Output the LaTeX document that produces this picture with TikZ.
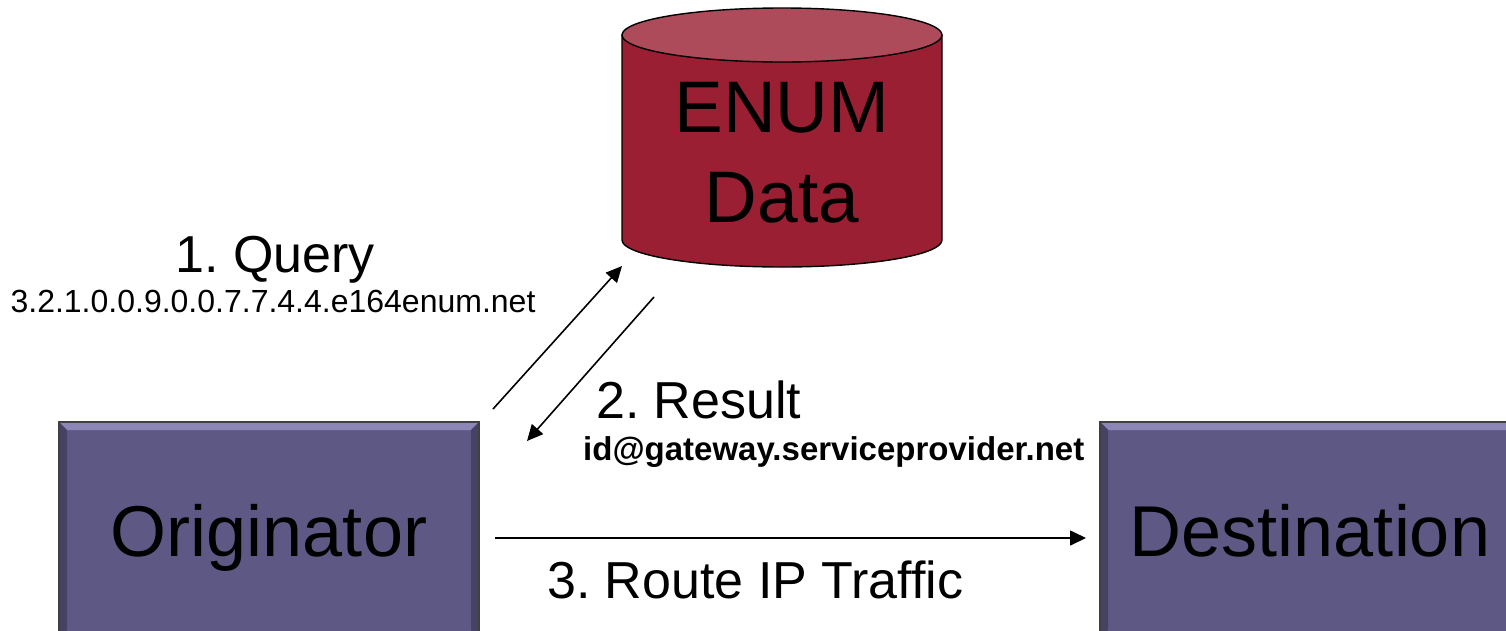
\documentclass[tikz,border=0pt]{standalone}
\usepackage{fontspec}
\setmainfont{Liberation Sans}
\frenchspacing
\usetikzlibrary{arrows.meta,positioning}
\definecolor{boxfill}{RGB}{94,89,132}
\definecolor{boxlight}{RGB}{140,135,182}
\definecolor{boxdark}{RGB}{70,66,100}
\definecolor{dbbody}{RGB}{154,31,51}
\definecolor{dbtop}{RGB}{173,75,91}
\tikzset{
  bevelbox/.style={draw=black!75, line width=1.4pt, fill=boxfill,
    minimum width=420pt, minimum height=216pt, inner sep=0pt,
    text height=52pt, text depth=0pt, font=\fontsize{72}{86}\selectfont,
    path picture={
      \fill[boxlight] (path picture bounding box.north west) -- (path picture bounding box.north east)
        -- ([xshift=-8pt,yshift=-8pt]path picture bounding box.north east)
        -- ([xshift=8pt,yshift=-8pt]path picture bounding box.north west) -- cycle;
      \fill[boxdark] (path picture bounding box.north west) -- ([xshift=8pt,yshift=-8pt]path picture bounding box.north west)
        -- ([xshift=8pt,yshift=8pt]path picture bounding box.south west) -- (path picture bounding box.south west) -- cycle;
      \fill[boxdark] (path picture bounding box.north east) -- ([xshift=-8pt,yshift=-8pt]path picture bounding box.north east)
        -- ([xshift=-8pt,yshift=8pt]path picture bounding box.south east) -- (path picture bounding box.south east) -- cycle;
    }},
  dblabel/.style={font=\fontsize{73}{88}\selectfont, inner sep=0pt, anchor=base},
  steplabel/.style={font=\fontsize{52}{60}\selectfont, inner sep=0pt, anchor=base},
  addrlabel/.style={font=\fontsize{32}{38}\selectfont, inner sep=0pt, anchor=base},
  flow/.style={line width=1.6pt, -{Triangle[length=16pt,width=15pt]}}
}
\begin{document}
\begin{tikzpicture}[x=1pt,y=-1pt]
\useasboundingbox (0,0) rectangle (1506,630);
\clip (0,0) rectangle (1506,630);
% database
\filldraw[fill=dbbody, draw=black, line width=1.4pt] (622,35) -- (622,240)
  arc[start angle=180, end angle=360, x radius=160pt, y radius=27pt] -- (942,35) -- cycle;
\filldraw[fill=dbtop, draw=black, line width=1.4pt] (782,35) ellipse[x radius=160pt, y radius=27pt];
\node[dblabel] (enum) at (782,132) {ENUM};
\node[dblabel] (data) at (782,222) {Data};
% end points
\node[bevelbox] (orig) at (269,530) {Originator};
\node[bevelbox] (dest) at (1310,530) {Destination};
% arrows
\coordinate (qstart) at (493,409);
\coordinate (qend) at (622,266);
\coordinate (rstart) at (654,297);
\coordinate (rend) at (527,441);
\coordinate (tstart) at (495,538);
\coordinate (tend) at (1086,538);
\draw[flow] (qstart) -- (qend);
\draw[flow] (rstart) -- (rend);
\draw[flow] (tstart) -- (tend);
% labels
\node[steplabel] (query) at (275,272) {1. Query};
\node[addrlabel] (qname) at (273,312) {3.2.1.0.0.9.0.0.7.7.4.4.e164enum.net};
\node[steplabel, anchor=base west] (result) at (596,418) {2. Result};
\node[addrlabel, anchor=base west, font=\fontsize{33}{38}\selectfont\bfseries] (rname) at (583,460) {id@gateway.serviceprovider.net};
\node[steplabel, anchor=base west] (route) at (547,598) {3. Route IP Traffic};
\end{tikzpicture}
\end{document}
